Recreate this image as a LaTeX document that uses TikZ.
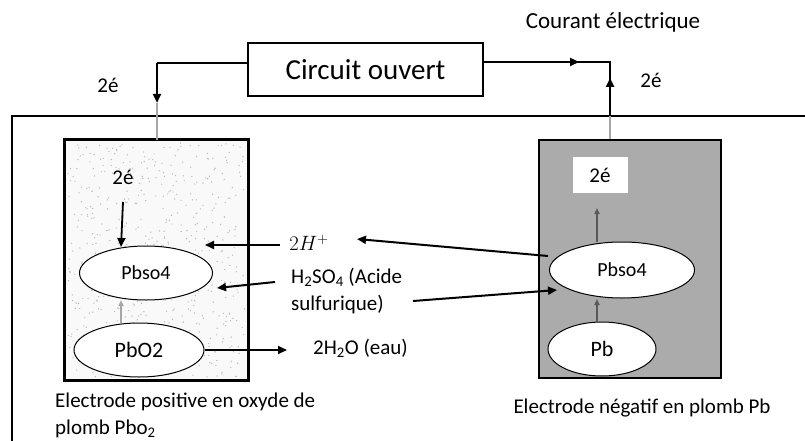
\documentclass[tikz,border=0pt]{standalone}
\usepackage{fontspec}
\setmainfont{Carlito}
\usetikzlibrary{arrows.meta,shapes.geometric}
\begin{document}
\begin{tikzpicture}[x=1pt,y=-1pt,
  wire/.style={line width=2.4pt,black},
  thin/.style={line width=1.6pt,gray!70},
  dthin/.style={line width=1.6pt,black!65},
  tip/.style={-{Triangle[length=9pt,width=8pt]}},
  smalltip/.style={-{Triangle[length=6pt,width=5pt]}},
  elbox/.style={draw=black,line width=2.2pt,inner sep=0pt},
  oval/.style={ellipse,draw=black,line width=1pt,fill=white,inner sep=0pt},
  txt/.style={font=\fontsize{21}{24}\selectfont,inner sep=0pt},
  bigtxt/.style={font=\fontsize{29}{34}\selectfont,inner sep=0pt}]
\useasboundingbox (0,0) rectangle (805,441);
\fill[white] (0,0) rectangle (805,441);
% outer container
\draw[line width=2.2pt] (12,445) -- (12,116) -- (810,116);
% electrode boxes
\node[elbox,fill=gray!5,minimum width=183pt,minimum height=240pt] (posel) at (156.5,260) {};
\pgfmathsetseed{7}
\foreach \i in {1,...,600}{
  \fill[gray!55] ({68+rnd*177},{143+rnd*234}) circle (0.7);
}
\draw[line width=2.2pt] (posel.north west) rectangle (posel.south east);
\node[elbox,fill=black!33,minimum width=182pt,minimum height=238pt] (negel) at (630,259) {};
% circuit box
\node[draw=black,line width=1.4pt,minimum width=235pt,minimum height=53pt,inner sep=0pt,bigtxt] (circuit) at (365.5,69.5) {Circuit ouvert};
\node[inner sep=0pt,font=\fontsize{23}{26}\selectfont] (courant) at (613,22) {Courant électrique};
\node[txt] (el1) at (108,85) {2é};
\node[txt] (el2) at (651,80) {2é};
% wires
\coordinate (lw) at (248,63);
\coordinate (lc) at (157,63);
\coordinate (la) at (157,103);
\draw[wire] (lw) -- (lc);
\draw[wire,tip] (lc) -- (la);
\draw[thin] (la) -- (157,140);
\coordinate (rw) at (483,62);
\coordinate (rc) at (610,62);
\coordinate (rb) at (610,116);
\coordinate (rm) at (579,62);
\coordinate (ru) at (610,78);
\draw[wire] (rw) -- (rc) -- (rb);
\draw[wire,tip] (rw) -- (rm);
\draw[wire,tip] (rb) -- (ru);
\draw[thin] (rb) -- (610,139);
% left electrode content
\node[txt] (le) at (123,177) {2é};
\node[oval,minimum width=133pt,minimum height=54pt,font=\fontsize{20}{22}\selectfont] (lpbso) at (146,273) {Pbso4};
\node[oval,minimum width=130pt,minimum height=54pt,font=\fontsize{22}{26}\selectfont] (pbo2) at (139,350) {PbO2};
\draw[line width=1.8pt,tip] (123,202) -- (121,247);
\draw[thin,smalltip] (pbo2.north -| 121,0) -- (121,300);
% middle
\node[inner sep=0pt,font=\fontsize{21}{24}\selectfont] (hplus) at (309,243) {$2H^+$};
\node[txt,anchor=west] (h2so4) at (291,277) {H\textsubscript{2}SO\textsubscript{4} (Acide};
\node[txt,anchor=west] (sulf) at (291,305) {sulfurique)};
\node[txt,anchor=west] (h2o) at (313,348) {2H\textsubscript{2}O (eau)};
\coordinate (hpl) at (205,245);
\coordinate (hsl) at (217,288);
\coordinate (h2ol) at (287,350);
\draw[line width=2pt,tip] (280,245) -- (hpl);
\draw[line width=2pt,tip] (275,282) -- (hsl);
\draw[line width=2pt,tip] (pbo2.east) -- (h2ol);
% right electrode content
\node[draw=none,fill=white,minimum width=55pt,minimum height=36pt,txt] (re) at (600,175) {2é};
\node[oval,minimum width=145pt,minimum height=56pt,font=\fontsize{20}{22}\selectfont] (rpbso) at (622,270) {Pbso4};
\node[oval,minimum width=108pt,minimum height=54pt,font=\fontsize{22}{26}\selectfont] (pb) at (602,349) {Pb};
\draw[dthin,smalltip] (597,242) -- (597,208);
\draw[dthin,smalltip] (597,322) -- (597,299);
\draw[line width=2pt,tip] (548,256) -- (357,239);
\draw[line width=2pt,tip] (413,301) -- (557,290);
% labels
\node[txt,anchor=west] (lab1) at (55,402) {Electrode positive en oxyde de};
\node[txt,anchor=west] (lab2) at (55,429) {plomb Pbo\textsubscript{2}};
\node[txt] (lab3) at (642,408) {Electrode négatif en plomb Pb};
\end{tikzpicture}
\end{document}
